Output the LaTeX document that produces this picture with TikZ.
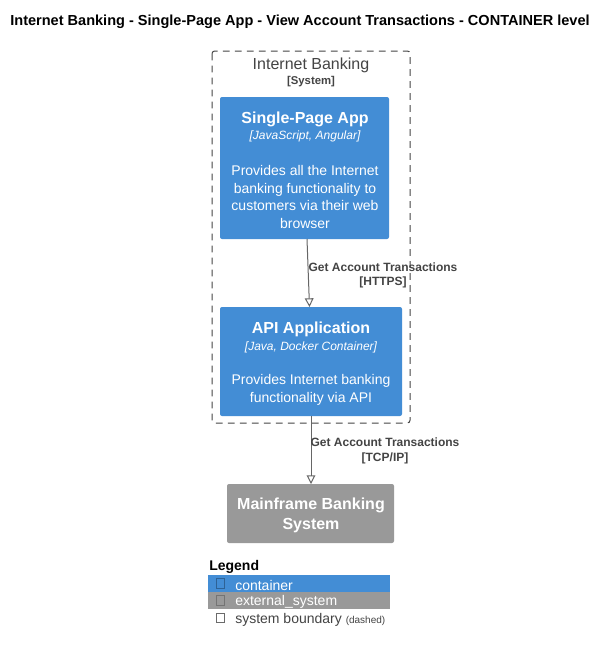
\documentclass[tikz,border=0pt]{standalone}
\usepackage{fontspec}
\setmainfont{Liberation Sans}
\usetikzlibrary{arrows.meta}
\definecolor{ctblue}{HTML}{438DD5}
\definecolor{extgray}{HTML}{999999}
\definecolor{linegray}{HTML}{666666}
\definecolor{txtgray}{HTML}{444444}
\definecolor{iconblue}{HTML}{2E6295}
\definecolor{icongray}{HTML}{6B6B6B}
\tikzset{
  px/.style={x=0.75pt,y=-0.75pt},
  boxbase/.style={rounded corners=1.5pt, draw=none, text=white, align=center, inner sep=0pt},
  contbox/.style={boxbase, fill=ctblue},
  extbox/.style={boxbase, fill=extgray},
  rel/.style={draw=linegray, line width=0.75pt, -{Triangle[open, length=6.5pt, width=6.5pt]}},
  rellabel/.style={text=txtgray, font=\fontsize{9}{11}\selectfont\bfseries, align=center, inner sep=0pt},
  btitle/.style={font=\fontsize{12}{14}\selectfont\bfseries, text=white, inner sep=0pt},
  btech/.style={font=\fontsize{9}{11}\selectfont\itshape, text=white, inner sep=0pt},
  bdesc/.style={font=\fontsize{10.5}{13.3}\selectfont, text=white, align=center, inner sep=0pt},
  legicon/.style={draw, line width=0.6pt, minimum width=5.5pt, minimum height=7pt, inner sep=0pt},
  legtext/.style={font=\fontsize{10.5}{12}\selectfont, anchor=west, inner sep=0pt},
}
\begin{document}
\begin{tikzpicture}[px]
\useasboundingbox (0,0) rectangle (606,653);
\fill[white] (0,0) rectangle (606,653);

% title
\node[font=\fontsize{10.9}{13}\selectfont\bfseries, inner sep=0pt] (title) at (300,21.5) {Internet Banking - Single-Page App - View Account Transactions - CONTAINER level};

% boundary
\draw[txtgray, dashed, dash pattern=on 5pt off 4pt, line width=0.75pt, rounded corners=2pt] (212,51) rectangle (410,423);
\node[font=\fontsize{12}{14}\selectfont, text=txtgray, inner sep=0pt] (bname) at (311,65.5) {Internet Banking};
\node[font=\fontsize{8.5}{10}\selectfont\bfseries, text=txtgray, inner sep=0pt] (btype) at (311,82) {[System]};

% Single-Page App
\path[contbox] (220,97) rectangle (389,239);
\node[btitle] (spaT) at (305,119.5) {Single-Page App};
\node[btech] (spaK) at (305,136) {[JavaScript, Angular]};
\node[bdesc] (spaD) at (305,197) {Provides all the Internet\\banking functionality to\\customers via their web\\browser};

% API Application
\path[contbox] (220,307) rectangle (402,416);
\node[btitle] (apiT) at (311,329.5) {API Application};
\node[btech] (apiK) at (311,347) {[Java, Docker Container]};
\node[bdesc] (apiD) at (311,390) {Provides Internet banking\\functionality via API};

% Mainframe
\path[extbox] (227,484) rectangle (394,543);
\node[btitle, align=center, font=\fontsize{12}{15}\selectfont\bfseries] (mfT) at (311,515.5) {Mainframe Banking\\System};

% connectors
\coordinate (spaBot) at (307,239);
\coordinate (apiTop) at (309.5,307);
\coordinate (apiBot) at (311,416);
\coordinate (mfTop) at (311,484);
\draw[rel] (spaBot) -- (apiTop);
\draw[rel] (apiBot) -- (mfTop);
\node[rellabel] (l1) at (383,275.5) {Get Account Transactions\\{}[HTTPS]};
\node[rellabel] (l2) at (385,451) {Get Account Transactions\\{}[TCP/IP]};

% legend
\node[font=\fontsize{10.5}{12}\selectfont\bfseries, anchor=west, inner sep=0pt] (legT) at (209,567) {Legend};
\path[fill=ctblue] (208,575) rectangle (390,592);
\path[fill=extgray] (208,592) rectangle (390,609);
\node[legicon, draw=iconblue] (ic1) at (220.5,583.5) {};
\node[legicon, draw=icongray!80!extgray] (ic2) at (220.5,600.5) {};
\node[legicon, draw=icongray] (ic3) at (220.5,618) {};
\node[legtext, text=white] (lt1) at (235,585) {container};
\node[legtext, text=white] (lt2) at (235,602) {external\_system};
\node[legtext, text=txtgray] (lt3) at (235,620) {system boundary \fontsize{7.5}{8}\selectfont(dashed)};
\end{tikzpicture}
\end{document}
